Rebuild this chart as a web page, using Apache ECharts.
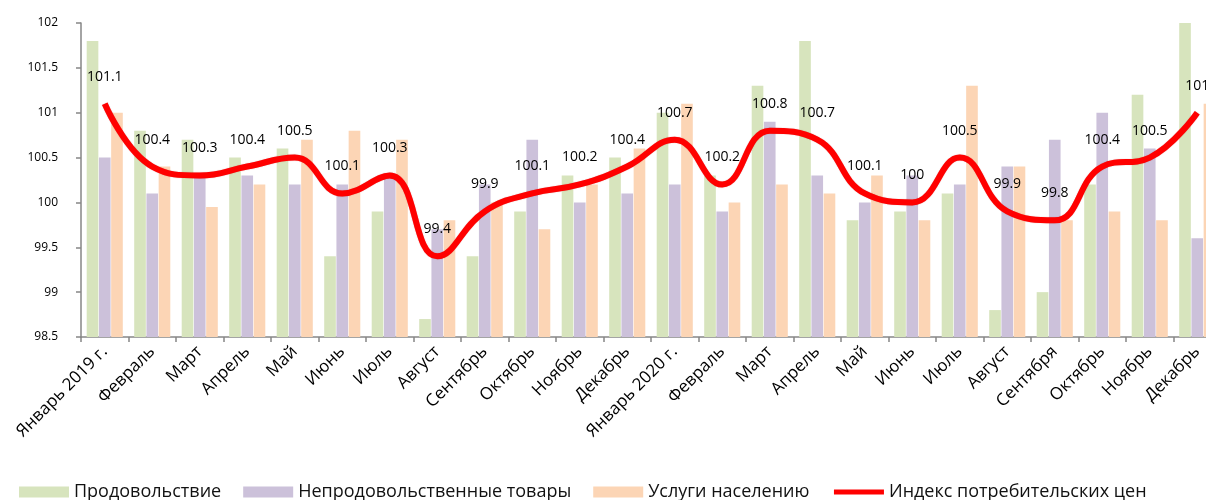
<!DOCTYPE html>
<html><head><meta charset="utf-8">
<script src="https://cdn.jsdelivr.net/npm/echarts@6/dist/echarts.min.js"></script>
<style>html,body{margin:0;padding:0;background:#fff}#c{width:1206px;height:500px}</style>
</head><body><div id="c"></div>
<script>
const categories = ["Январь 2019 г.","Февраль","Март","Апрель","Май","Июнь","Июль","Август","Сентябрь","Октябрь","Ноябрь","Декабрь","Январь 2020 г.","Февраль","Март","Апрель","Май","Июнь","Июль","Август","Сентября","Октябрь","Ноябрь","Декабрь"];
const food =     [101.8,100.8,100.7,100.5,100.6,99.4,99.9,98.7,99.4,99.9,100.3,100.5,101.0,100.3,101.3,101.8,99.8,99.9,100.1,98.8,99.0,100.2,101.2,102.0];
const nonFood =  [100.5,100.1,100.3,100.3,100.2,100.2,100.3,99.7,100.2,100.7,100.0,100.1,100.2,99.9,100.9,100.3,100.0,100.3,100.2,100.4,100.7,101.0,100.6,99.6];
const services = [101.0,100.4,99.95,100.2,100.7,100.8,100.7,99.8,100.0,99.7,100.2,100.6,101.1,100.0,100.2,100.1,100.3,99.8,101.3,100.4,99.8,99.9,99.8,101.1];
const cpi =      [101.1,100.4,100.3,100.4,100.5,100.1,100.3,99.4,99.9,100.1,100.2,100.4,100.7,100.2,100.8,100.7,100.1,100,100.5,99.9,99.8,100.4,100.5,101];
const seriesNames = ["Продовольствие","Непродовольственные товары","Услуги населению","Индекс потребительских цен"];
const yTicks = {min: 98.5, max: 102, interval: 0.5};

const font = "'Open Sans', 'Noto Sans', sans-serif";
const chart = echarts.init(document.getElementById('c'), null, {renderer: 'canvas'});
const barBase = {type: 'bar', barGap: '5%', barCategoryGap: '24%'};
chart.setOption({
  animation: false,
  textStyle: {fontFamily: font},
  grid: {left: 81, width: 1140, top: 23, bottom: 163, containLabel: false, outerBoundsMode: 'none'},
  legend: {
    left: 14, top: 478, itemWidth: 50, itemHeight: 11, itemGap: 22,
    textStyle: {fontFamily: font, fontSize: 18, color: '#111'},
    data: [
      {name: seriesNames[0], icon: 'rect'},
      {name: seriesNames[1], icon: 'rect'},
      {name: seriesNames[2], icon: 'rect'},
      {name: seriesNames[3], itemStyle: {opacity: 0}, lineStyle: {width: 5, color: '#ff0000'}}
    ]
  },
  xAxis: {
    type: 'category', data: categories, boundaryGap: true,
    axisLine: {lineStyle: {color: '#868686', width: 1.5}},
    axisTick: {show: true, length: 5, lineStyle: {color: '#868686', width: 1.5}},
    axisLabel: {rotate: 45, interval: 0, margin: 12, fontSize: 17, color: '#000', fontFamily: font}
  },
  yAxis: {
    type: 'value', min: yTicks.min, max: yTicks.max, interval: yTicks.interval,
    splitLine: {show: false},
    axisLine: {show: true, lineStyle: {color: '#868686', width: 1.5}},
    axisTick: {show: true, length: 5, lineStyle: {color: '#868686', width: 1.5}},
    axisLabel: {margin: 23, fontSize: 12, color: '#000', fontFamily: font}
  },
  series: [
    Object.assign({}, barBase, {name: seriesNames[0], data: food, itemStyle: {color: '#d7e4bd'}}),
    Object.assign({}, barBase, {name: seriesNames[1], data: nonFood, itemStyle: {color: '#ccc1da'}}),
    Object.assign({}, barBase, {name: seriesNames[2], data: services, itemStyle: {color: '#fcd5b5'}}),
    {
      name: seriesNames[3], type: 'line', data: cpi, smooth: 0.45,
      showSymbol: true, symbol: 'circle', symbolSize: 0, z: 5,
      lineStyle: {color: '#ff0000', width: 6, shadowColor: 'rgba(160,0,0,0.4)', shadowBlur: 1},
      itemStyle: {color: '#ff0000'},
      label: {show: true, position: 'top', distance: 20, fontSize: 14, color: '#000', fontFamily: font}
    }
  ]
});
</script></body></html>
